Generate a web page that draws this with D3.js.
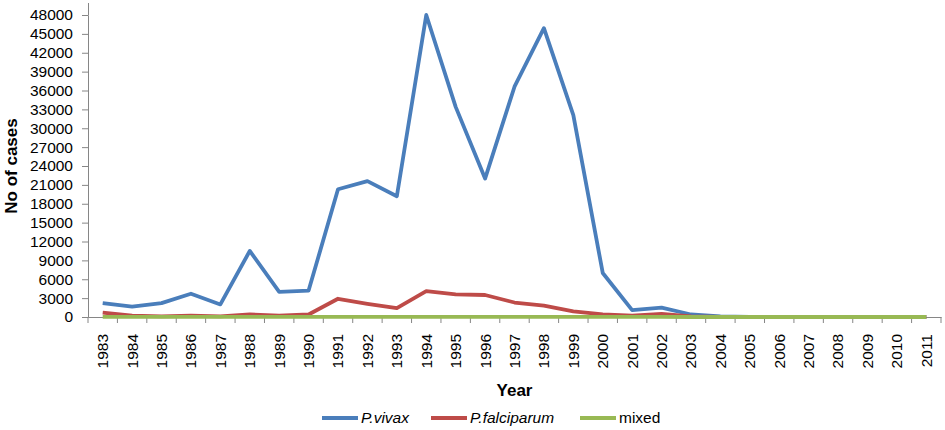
<!DOCTYPE html>
<html>
<head>
<meta charset="utf-8">
<script src="https://cdn.jsdelivr.net/npm/d3@7"></script>
<style>
  body { margin: 0; background: #fff; }
  text { font-family: "Liberation Sans", Arial, sans-serif; }
</style>
</head>
<body>
<div id="chart"></div>
<script>
// values
var years = ["1983","1984","1985","1986","1987","1988","1989","1990","1991","1992",
             "1993","1994","1995","1996","1997","1998","1999","2000","2001","2002",
             "2003","2004","2005","2006","2007","2008","2009","2010","2011"];
var vivax = [2200,1650,2200,3700,2000,10500,4000,4200,20300,21600,
             19200,48000,33400,22000,36600,45900,32100,7000,1100,1500,
             400,80,0,0,0,0,0,0,0];
var falciparum = [700,200,100,200,100,400,200,400,2900,2100,
                  1400,4100,3600,3500,2300,1800,900,400,200,500,
                  100,20,0,0,0,0,0,0,0];
var mixed = [20,10,10,10,10,10,10,10,20,20,
             20,20,20,20,20,20,20,10,10,10,
             0,0,0,0,0,0,0,0,0];
var yTicks = d3.range(0, 48001, 3000);

var series = [
  { name: "P.vivax", values: vivax, color: "#4A7EBB", italic: true },
  { name: "P.falciparum", values: falciparum, color: "#BE4B48", italic: true },
  { name: "mixed", values: mixed, color: "#98B954", italic: false }
];

var width = 945, height = 430;
var margin = { top: 15, right: 4, bottom: 113, left: 88 };

var svg = d3.select("#chart").append("svg")
    .attr("width", width)
    .attr("height", height);

var x = d3.scaleBand()
    .domain(years)
    .range([margin.left, width - margin.right]);

var y = d3.scaleLinear()
    .domain([0, 48000])
    .range([height - margin.bottom, margin.top]);

var axisColor = "#868686";

// y axis
var yAxis = svg.append("g")
    .attr("transform", "translate(" + margin.left + ",0)")
    .call(d3.axisLeft(y).tickValues(yTicks).tickSize(6).tickPadding(9).tickFormat(d3.format("d")));
yAxis.selectAll("path, line").attr("stroke", axisColor);
yAxis.selectAll("text").attr("font-size", 15.5).attr("fill", "#000")
    .attr("font-family", "Liberation Sans, Arial, sans-serif");
// axis line runs a bit past the top tick
yAxis.append("line")
    .attr("x1", 0.5).attr("x2", 0.5)
    .attr("y1", 3).attr("y2", y(48000))
    .attr("stroke", axisColor);

// x axis, ticks between categories
var xAxis = svg.append("g")
    .attr("transform", "translate(0," + y(0) + ")")
    .call(d3.axisBottom(x).tickSize(0).tickPadding(0));
xAxis.select(".domain").attr("stroke", axisColor);
xAxis.selectAll(".tick text")
    .attr("font-size", 15.5).attr("fill", "#000")
    .attr("font-family", "Liberation Sans, Arial, sans-serif")
    .attr("text-anchor", "end")
    .attr("dy", "0.35em")
    .attr("transform", "translate(0,17) rotate(-90)");
xAxis.selectAll(".sep")
    .data(years.concat(["end"]))
    .enter().append("line")
    .attr("class", "sep")
    .attr("x1", function (d, i) { return margin.left + i * x.step(); })
    .attr("x2", function (d, i) { return margin.left + i * x.step(); })
    .attr("y1", 0).attr("y2", 6)
    .attr("stroke", axisColor);

// lines
var line = d3.line()
    .x(function (d, i) { return x(years[i]) + x.bandwidth() / 2; })
    .y(function (d) { return y(d); });

svg.selectAll(".series")
    .data(series)
    .enter().append("path")
    .attr("class", "series")
    .attr("fill", "none")
    .attr("stroke", function (d) { return d.color; })
    .attr("stroke-width", 3.8)
    .attr("stroke-linejoin", "round")
    .attr("d", function (d) { return line(d.values); });

// axis titles
svg.append("text")
    .attr("transform", "translate(17," + ((margin.top + y(0)) / 2) + ") rotate(-90)")
    .attr("text-anchor", "middle")
    .attr("font-size", 17).attr("font-weight", "bold")
    .text("No of cases");

svg.append("text")
    .attr("x", (margin.left + width - margin.right) / 2)
    .attr("y", 396)
    .attr("text-anchor", "middle")
    .attr("font-size", 17).attr("font-weight", "bold")
    .text("Year");

// legend
var legendX = [322, 431, 580];
var legend = svg.selectAll(".legend")
    .data(series)
    .enter().append("g")
    .attr("class", "legend")
    .attr("transform", function (d, i) { return "translate(" + legendX[i] + ",418)"; });
legend.append("line")
    .attr("x1", 0).attr("x2", 36)
    .attr("stroke", function (d) { return d.color; })
    .attr("stroke-width", 3.8);
legend.append("text")
    .attr("x", 39).attr("dy", "0.35em")
    .attr("font-size", 15.5)
    .attr("font-style", function (d) { return d.italic ? "italic" : "normal"; })
    .text(function (d) { return d.name; });
</script>
</body>
</html>
